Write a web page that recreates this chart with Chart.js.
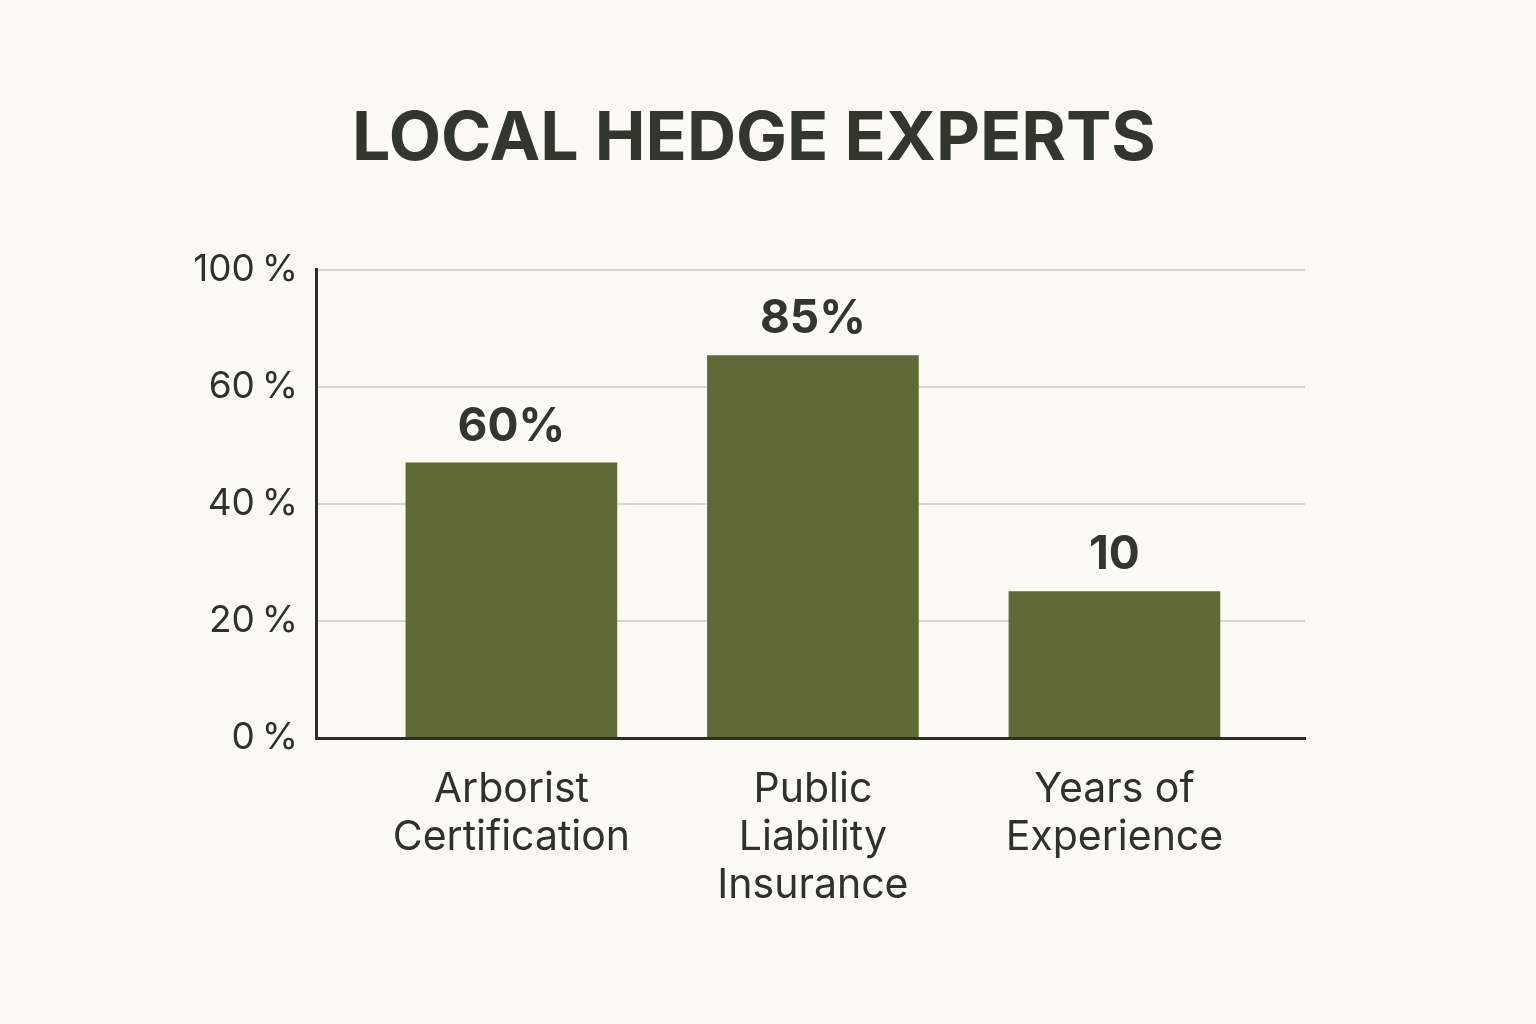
<!DOCTYPE html>
<html>
<head>
<meta charset="utf-8">
<script src="https://cdn.jsdelivr.net/npm/chart.js@4"></script>
<style>
  html, body { margin: 0; padding: 0; background: #fcfaf5; }
  #wrap { width: 1536px; height: 1024px; }
</style>
</head>
<body>
<div id="wrap"><canvas id="chart"></canvas></div>
<script>
// data
const categories = [['Arborist', 'Certification'], ['Public', 'Liability', 'Insurance'], ['Years of', 'Experience']];
const positions = [1, 2, 3];
const barHeights = [47, 65.3, 25];          // in y-axis units, as drawn
const valueLabels = ['60%', '85%', '10'];
const yTickLabels = ['0%', '20%', '40%', '60%', '100%'];

const textColor = '#2f3229';

// value text above each bar
const valueLabelPlugin = {
    id: 'valueLabels',
    afterDatasetsDraw(chart) {
        const ctx = chart.ctx;
        const meta = chart.getDatasetMeta(0);
        ctx.save();
        ctx.font = 'bold 46px Inter';
        ctx.fillStyle = '#33362d';
        ctx.textAlign = 'center';
        ctx.textBaseline = 'middle';
        meta.data.forEach((bar, i) => {
            ctx.fillText(valueLabels[i], bar.x, bar.y - 36);
        });
        ctx.restore();
    }
};

const ctx = document.getElementById('chart').getContext('2d');
new Chart(ctx, {
    type: 'bar',
    data: {
        datasets: [{
            data: positions.map((x, i) => ({ x: x, y: barHeights[i] })),
            backgroundColor: '#5f6935',
            borderWidth: 0,
            barThickness: 211
        }]
    },
    options: {
        responsive: true,
        maintainAspectRatio: false,
        animation: false,
        layout: { padding: { left: 170, right: 198, top: 0, bottom: 0 } },
        plugins: {
            legend: { display: false },
            tooltip: { enabled: false },
            title: {
                display: true,
                text: 'LOCAL HEDGE EXPERTS',
                color: '#33362d',
                font: { family: 'Inter', size: 68, weight: 'bold' },
                padding: { top: 99, bottom: 89 }
            }
        },
        scales: {
            x: {
                type: 'linear',
                offset: false,
                min: 0.352,
                max: 3.632,
                afterBuildTicks: (axis) => { axis.ticks = positions.map(v => ({ value: v })); },
                afterFit: (axis) => { axis.height = 286; },
                grid: { display: false, drawTicks: false, offset: false },
                border: { display: true, color: '#2b2e27', width: 3, z: 1 },
                ticks: {
                    autoSkip: false,
                    maxRotation: 0,
                    padding: 28,
                    color: textColor,
                    font: { family: 'Inter', size: 41, lineHeight: 1.17 },
                    callback: (value) => categories[positions.indexOf(value)]
                }
            },
            y: {
                min: 0,
                max: 80,
                afterFit: (axis) => { axis.width = 146; },
                grid: { color: '#d6d6d1', lineWidth: 2, drawTicks: false },
                border: { display: true, color: '#2b2e27', width: 3, z: 1 },
                ticks: {
                    stepSize: 20,
                    padding: 18,
                    color: textColor,
                    font: { family: 'Inter', size: 37 },
                    callback: (value, index) => yTickLabels[index].replace('%', '\u2009%')
                }
            },
            // empty right-hand spacer so the plot ends where the reference does
            spacer: {
                type: 'linear',
                position: 'right',
                afterFit: (axis) => { axis.width = 33; },
                grid: { display: false, drawTicks: false },
                border: { display: false },
                ticks: { display: false }
            }
        }
    },
    plugins: [valueLabelPlugin]
});
</script>
</body>
</html>
